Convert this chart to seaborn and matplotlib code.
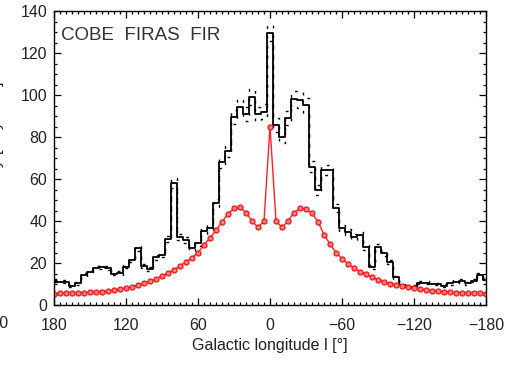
import matplotlib
matplotlib.use("Agg")
import matplotlib.pyplot as plt
import numpy as np
import pandas as pd
import seaborn as sns
from matplotlib.ticker import MultipleLocator, FixedLocator

# ---------------- data ----------------
longitude = list(range(180, -181, -5))  # galactic longitude bins, 5 deg

fir_obs = [11.5, 11, 11, 9, 10.3, 14.3, 15.9, 17.5, 18, 17.5,
           15, 15.2, 18.3, 21.4, 27, 18.6, 17, 22.7, 23.8, 31.3,
           58, 32.5, 31, 27, 29.4, 35.4, 36.5, 48.7, 68, 73.5,
           89.5, 94.5, 91, 99, 91, 92,
           129.5,
           85.7, 80.2, 88.9, 98, 97.6, 95.2, 65.9, 54.8, 64.3, 64.3,
           46, 36.5, 34.9, 32.2, 33.3, 27.5, 18, 27.8, 24.6, 20.6,
           13.2, 9.5, 8.7, 8.7, 10.6, 10.6, 10, 10, 9.2, 10.3,
           11.1, 11.5, 10.3, 11.5, 14.5, 12]

fir_err = [0.7, 0.7, 0.7, 0.6, 0.7, 0.8, 0.9, 0.9, 0.9, 0.9,
           0.8, 0.8, 0.9, 1.0, 1.2, 0.9, 0.9, 1.1, 1.1, 1.4,
           2.3, 1.4, 1.4, 1.2, 1.3, 1.5, 1.6, 2.0, 2.7, 2.9,
           3.4, 3.6, 3.5, 3.8, 3.5, 3.5,
           4.0,
           3.3, 3.1, 3.4, 3.7, 3.7, 3.6, 2.6, 2.2, 2.5, 2.5,
           1.9, 1.5, 1.5, 1.4, 1.4, 1.2, 0.9, 1.2, 1.1, 1.0,
           0.8, 0.6, 0.6, 0.6, 0.7, 0.7, 0.7, 0.7, 0.6, 0.7,
           0.7, 0.7, 0.7, 0.7, 0.8, 0.7]

model_fir = [5.4, 5.5, 5.5, 5.6, 5.7, 5.8, 6.0, 6.2, 6.4, 6.7,
             7.1, 7.5, 8.0, 8.7, 9.4, 10.3, 11.3, 12.4, 13.8, 15.3,
             16.7, 18.6, 20.5, 22.5, 25, 28.5, 32, 35.5, 39.5, 43.5,
             46, 46.5, 44, 40, 37, 40,
             85,
             40, 37, 40, 44, 46, 45.7, 43.7, 39.7, 33.5, 29,
             25, 22, 19.5, 17.5, 15.9, 14.6, 13.2, 12, 11, 10.2,
             9.5, 8.9, 8.4, 8.0, 7.6, 7.2, 6.9, 6.6, 6.3, 6.1,
             5.9, 5.8, 5.7, 5.6, 5.5, 5.4]

xtick_values = [180, 120, 60, 0, -60, -120, -180]
xtick_labels = ["180", "120", "60", "0", "\u221260", "\u2212120", "\u2212180"]
ytick_values = [0, 20, 40, 60, 80, 100, 120, 140]

df = pd.DataFrame({"l": longitude, "obs": fir_obs, "err": fir_err, "model": model_fir})
df["upper"] = df["obs"] + df["err"]
df["lower"] = df["obs"] - df["err"]

# ---------------- figure ----------------
sns.set_style("ticks")
plt.rcParams["font.family"] = ["Liberation Sans", "DejaVu Sans"]

W, H = 510, 374
fig = plt.figure(figsize=(W / 100, H / 100), dpi=100)
ax = fig.add_axes([54 / W, 1 - 305 / H, 432 / W, 294 / H])

for col in ["upper", "lower"]:
    sns.lineplot(data=df, x="l", y=col, ax=ax, color="black", lw=1.0,
                 drawstyle="steps-mid", estimator=None, sort=False,
                 dashes=False, linestyle=(0, (2, 5)))
sns.lineplot(data=df, x="l", y="obs", ax=ax, color="black", lw=1.3,
             drawstyle="steps-mid", estimator=None, sort=False)
sns.lineplot(data=df, x="l", y="model", ax=ax, color="#ff2020", lw=1.0,
             estimator=None, sort=False, marker="o", markersize=3.6,
             markerfacecolor="#ff8080", markeredgecolor="#ff1010",
             markeredgewidth=0.9)

ax.set_xlim(180, -180)
ax.set_ylim(0, 140)
ax.xaxis.set_major_locator(FixedLocator(xtick_values))
ax.set_xticklabels(xtick_labels)
ax.xaxis.set_minor_locator(MultipleLocator(5))
ax.yaxis.set_major_locator(FixedLocator(ytick_values))
ax.yaxis.set_minor_locator(MultipleLocator(5))
ax.tick_params(which="both", direction="in", top=True, right=True,
               color="black", width=0.9, labelsize=11.5, labelcolor="#222222")
ax.tick_params(which="major", length=5)
ax.tick_params(which="minor", length=2.4)
ax.tick_params(axis="x", pad=9)
ax.tick_params(axis="y", pad=5)
for sp in ax.spines.values():
    sp.set_visible(True)
    sp.set_linewidth(1.0)
    sp.set_color("black")

ax.set_xlabel("Galactic longitude l [\u00b0]", fontsize=11.5, color="#222222", labelpad=4)
ax.set_ylabel("")
ax.text(0.017, 0.947, "COBE  FIRAS  FIR", transform=ax.transAxes, fontsize=13.5,
        color="#333333", ha="left", va="top")

# fragments cut off by the crop at the left edge of the reference
fig.text(7 / W, 1 - 150 / H, "Intensity [MJy sr$^{-1}$]", rotation=90,
         ha="right", va="center", fontsize=11.5, color="#222222")
fig.text(8 / W, 1 - 323 / H, "\u2212180", ha="right", va="center",
         fontsize=11.5, color="#222222")

fig.savefig("out.png", dpi=100)
